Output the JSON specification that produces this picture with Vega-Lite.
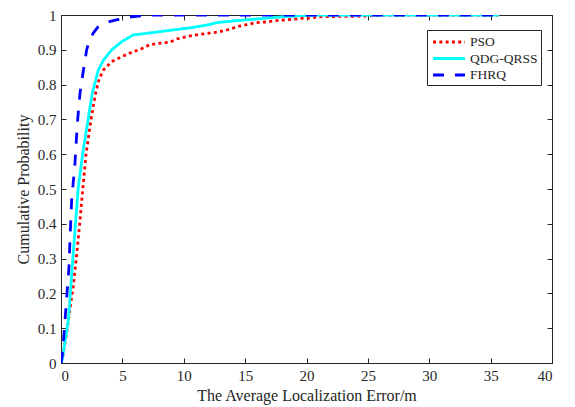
{
  "$schema": "https://vega.github.io/schema/vega-lite/v6.json",
  "width": 491,
  "height": 348,
  "autosize": {"type": "none"},
  "padding": {"left": 61, "top": 15, "right": 23, "bottom": 44},
  "background": "white",
  "config": {
    "view": {"stroke": "#262626", "strokeWidth": 1},
    "font": "Liberation Serif",
    "axis": {
      "grid": false,
      "domainColor": "#262626",
      "tickColor": "#262626",
      "labelColor": "#262626",
      "titleColor": "#262626",
      "labelFont": "Liberation Serif",
      "titleFont": "Liberation Serif",
      "labelFontSize": 15,
      "titleFontSize": 16,
      "titleFontWeight": "normal",
      "tickSize": -5,
      "labelPadding": 10
    },
    "legend": {
      "labelFont": "Liberation Serif",
      "labelFontSize": 13.5,
      "labelColor": "#262626"
    }
  },
  "data": {
    "values": [
      {"s": "PSO", "x": 0, "y": 0},
      {"s": "PSO", "x": 0.15, "y": 0.02},
      {"s": "PSO", "x": 0.46, "y": 0.086},
      {"s": "PSO", "x": 0.75, "y": 0.16},
      {"s": "PSO", "x": 1.0, "y": 0.22},
      {"s": "PSO", "x": 1.3, "y": 0.32},
      {"s": "PSO", "x": 1.55, "y": 0.41},
      {"s": "PSO", "x": 1.8, "y": 0.51},
      {"s": "PSO", "x": 2.04, "y": 0.6},
      {"s": "PSO", "x": 2.44, "y": 0.698},
      {"s": "PSO", "x": 2.82, "y": 0.776},
      {"s": "PSO", "x": 3.1, "y": 0.815},
      {"s": "PSO", "x": 3.45, "y": 0.842},
      {"s": "PSO", "x": 4.13, "y": 0.866},
      {"s": "PSO", "x": 4.94, "y": 0.88},
      {"s": "PSO", "x": 5.89, "y": 0.895},
      {"s": "PSO", "x": 6.44, "y": 0.901},
      {"s": "PSO", "x": 7.25, "y": 0.915},
      {"s": "PSO", "x": 8.07, "y": 0.919},
      {"s": "PSO", "x": 8.88, "y": 0.922},
      {"s": "PSO", "x": 9.43, "y": 0.931},
      {"s": "PSO", "x": 10.24, "y": 0.938},
      {"s": "PSO", "x": 11.05, "y": 0.943},
      {"s": "PSO", "x": 11.87, "y": 0.947},
      {"s": "PSO", "x": 12.95, "y": 0.952},
      {"s": "PSO", "x": 13.77, "y": 0.959},
      {"s": "PSO", "x": 14.3, "y": 0.966},
      {"s": "PSO", "x": 15.1, "y": 0.972},
      {"s": "PSO", "x": 15.9, "y": 0.978},
      {"s": "PSO", "x": 16.76, "y": 0.98},
      {"s": "PSO", "x": 17.57, "y": 0.984},
      {"s": "PSO", "x": 18.4, "y": 0.986},
      {"s": "PSO", "x": 19.5, "y": 0.99},
      {"s": "PSO", "x": 20.3, "y": 0.991},
      {"s": "PSO", "x": 21.1, "y": 0.995},
      {"s": "PSO", "x": 24.9, "y": 0.997},
      {"s": "PSO", "x": 26, "y": 1},
      {"s": "PSO", "x": 35.7, "y": 1},
      {"s": "QDG-QRSS", "x": 0, "y": 0},
      {"s": "QDG-QRSS", "x": 0.1, "y": 0.01},
      {"s": "QDG-QRSS", "x": 0.6, "y": 0.124},
      {"s": "QDG-QRSS", "x": 1.0, "y": 0.316},
      {"s": "QDG-QRSS", "x": 1.41, "y": 0.506},
      {"s": "QDG-QRSS", "x": 1.8, "y": 0.61},
      {"s": "QDG-QRSS", "x": 2.2, "y": 0.698},
      {"s": "QDG-QRSS", "x": 2.55, "y": 0.776},
      {"s": "QDG-QRSS", "x": 3.04, "y": 0.842},
      {"s": "QDG-QRSS", "x": 3.45, "y": 0.87},
      {"s": "QDG-QRSS", "x": 4.13, "y": 0.9},
      {"s": "QDG-QRSS", "x": 4.94, "y": 0.923},
      {"s": "QDG-QRSS", "x": 5.89, "y": 0.943},
      {"s": "QDG-QRSS", "x": 6.44, "y": 0.945},
      {"s": "QDG-QRSS", "x": 7.8, "y": 0.951},
      {"s": "QDG-QRSS", "x": 9.15, "y": 0.957},
      {"s": "QDG-QRSS", "x": 10.5, "y": 0.963},
      {"s": "QDG-QRSS", "x": 11.87, "y": 0.971},
      {"s": "QDG-QRSS", "x": 12.68, "y": 0.978},
      {"s": "QDG-QRSS", "x": 14.04, "y": 0.983},
      {"s": "QDG-QRSS", "x": 15.4, "y": 0.987},
      {"s": "QDG-QRSS", "x": 16.76, "y": 0.991},
      {"s": "QDG-QRSS", "x": 18.1, "y": 0.995},
      {"s": "QDG-QRSS", "x": 19.5, "y": 0.998},
      {"s": "QDG-QRSS", "x": 21.1, "y": 1},
      {"s": "QDG-QRSS", "x": 35.7, "y": 1},
      {"s": "FHRQ", "x": 0, "y": 0},
      {"s": "FHRQ", "x": 0.1, "y": 0.02},
      {"s": "FHRQ", "x": 0.25, "y": 0.086},
      {"s": "FHRQ", "x": 0.49, "y": 0.2},
      {"s": "FHRQ", "x": 0.65, "y": 0.276},
      {"s": "FHRQ", "x": 0.76, "y": 0.38},
      {"s": "FHRQ", "x": 0.87, "y": 0.47},
      {"s": "FHRQ", "x": 1.14, "y": 0.575},
      {"s": "FHRQ", "x": 1.28, "y": 0.66},
      {"s": "FHRQ", "x": 1.36, "y": 0.7},
      {"s": "FHRQ", "x": 1.55, "y": 0.776},
      {"s": "FHRQ", "x": 1.82, "y": 0.84},
      {"s": "FHRQ", "x": 2.09, "y": 0.9},
      {"s": "FHRQ", "x": 2.35, "y": 0.93},
      {"s": "FHRQ", "x": 2.63, "y": 0.948},
      {"s": "FHRQ", "x": 3.0, "y": 0.965},
      {"s": "FHRQ", "x": 3.83, "y": 0.98},
      {"s": "FHRQ", "x": 4.5, "y": 0.986},
      {"s": "FHRQ", "x": 5.76, "y": 0.995},
      {"s": "FHRQ", "x": 7, "y": 0.999},
      {"s": "FHRQ", "x": 8, "y": 1},
      {"s": "FHRQ", "x": 35.7, "y": 1}
    ]
  },
  "layer": [
    {
      "mark": {"type": "line", "strokeWidth": 2.8, "clip": true},
      "encoding": {
        "x": {
          "field": "x", "type": "quantitative",
          "scale": {"domain": [0, 40], "nice": false},
          "axis": {"values": [0, 5, 10, 15, 20, 25, 30, 35, 40], "title": "The Average Localization Error/m", "titlePadding": 4}
        },
        "y": {
          "field": "y", "type": "quantitative",
          "scale": {"domain": [0, 1], "nice": false},
          "axis": {"values": [0, 0.1, 0.2, 0.3, 0.4, 0.5, 0.6, 0.7, 0.8, 0.9, 1], "format": "~g", "title": "Cumulative Probability", "titlePadding": 6}
        },
        "color": {
          "field": "s", "type": "nominal",
          "scale": {"domain": ["PSO", "QDG-QRSS", "FHRQ"], "range": ["#FF0000", "#00FFFF", "#0000FF"]},
          "legend": {
            "title": null, "orient": "none", "legendX": 366, "legendY": 15,
            "strokeColor": "#262626", "fillColor": "white", "padding": 3,
            "symbolType": "M-2.13,0H2.13", "symbolSize": 225, "symbolStrokeWidth": 2.8,
            "symbolOffset": 10, "rowPadding": 0.5, "labelOffset": 12
          }
        },
        "strokeDash": {
          "field": "s", "type": "nominal",
          "scale": {"domain": ["PSO", "QDG-QRSS", "FHRQ"], "range": [[3, 3.3], [1, 0], [11, 11]]},
          "legend": {
            "title": null, "orient": "none", "legendX": 366, "legendY": 15,
            "strokeColor": "#262626", "fillColor": "white", "padding": 3,
            "symbolType": "M-2.13,0H2.13", "symbolSize": 225, "symbolStrokeWidth": 2.8,
            "symbolOffset": 10, "rowPadding": 0.5, "labelOffset": 12
          }
        }
      }
    },
    {
      "mark": {"type": "point", "opacity": 0},
      "encoding": {
        "x": {
          "field": "x", "type": "quantitative",
          "axis": {"orient": "top", "values": [0, 5, 10, 15, 20, 25, 30, 35, 40], "labels": false, "title": null}
        },
        "y": {
          "field": "y", "type": "quantitative",
          "axis": {"orient": "right", "values": [0, 0.1, 0.2, 0.3, 0.4, 0.5, 0.6, 0.7, 0.8, 0.9, 1], "labels": false, "title": null}
        }
      }
    }
  ],
  "resolve": {"axis": {"x": "independent", "y": "independent"}}
}
